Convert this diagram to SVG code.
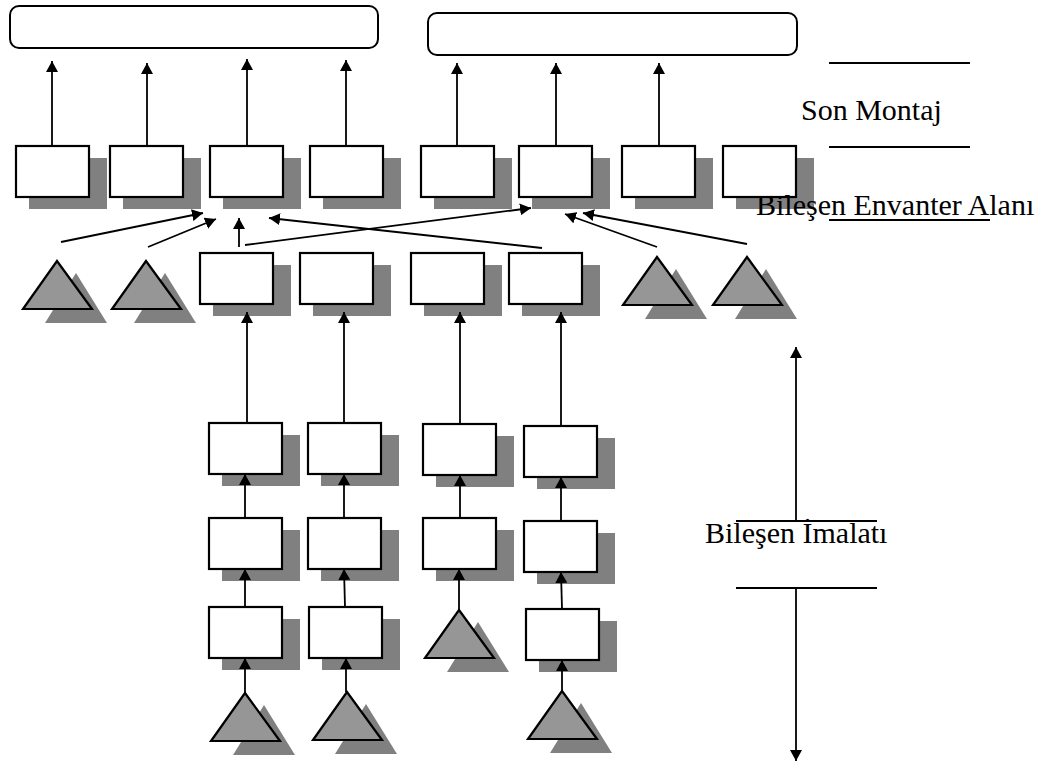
<svg xmlns="http://www.w3.org/2000/svg" width="1041" height="765" viewBox="0 0 1041 765">
  <style>
    .box { fill: #ffffff; stroke: #000000; stroke-width: 2.2; }
    .sh { fill: #808080; stroke: none; }
    .tri { fill: #969696; stroke: #000000; stroke-width: 2.2; stroke-linejoin: miter; }
    .stage { fill: #ffffff; stroke: #000000; stroke-width: 2; }
    .ln { fill: none; stroke: #000000; stroke-width: 2; }
    .arr { fill: none; stroke: #000000; stroke-width: 1.8; marker-end: url(#ah); }
    .lbl { font-family: "Liberation Serif", "Times New Roman", serif; font-size: 30px; fill: #000000; }
  </style>
  <defs>
    <marker id="ah" viewBox="0 0 11 12" refX="11" refY="6" markerWidth="11" markerHeight="12" markerUnits="userSpaceOnUse" orient="auto">
      <path d="M0,0 L11,6 L0,12 z" fill="#000000"/>
    </marker>
    <!-- box with drop shadow -->
    <g id="bx">
      <rect class="sh" x="13" y="12" width="78" height="51"/>
      <rect class="box" x="0" y="0" width="73" height="51"/>
    </g>
    <!-- triangle with drop shadow -->
    <g id="tr">
      <polygon class="sh" points="53,12 84,62 22,62"/>
      <polygon class="tri" points="34,0 69,48 0,48"/>
    </g>
  </defs>

  <!-- final assembly stages -->
  <g id="stage-left"><rect class="stage" x="10" y="6" width="368" height="42" rx="9"/></g>
  <g id="stage-right"><rect class="stage" x="428" y="13" width="369" height="42" rx="9"/></g>

  <!-- component inventory row -->
  <g id="inv-1"><use href="#bx" x="16" y="146"/></g>
  <g id="inv-2"><use href="#bx" x="110" y="146"/></g>
  <g id="inv-3"><use href="#bx" x="210" y="146"/></g>
  <g id="inv-4"><use href="#bx" x="310" y="146"/></g>
  <g id="inv-5"><use href="#bx" x="421" y="146"/></g>
  <g id="inv-6"><use href="#bx" x="519" y="146"/></g>
  <g id="inv-7"><use href="#bx" x="622" y="146"/></g>
  <g id="inv-8"><use href="#bx" x="723" y="146"/></g>

  <!-- supply row -->
  <g id="src-1"><use href="#tr" x="23" y="261"/></g>
  <g id="src-2"><use href="#tr" x="112" y="261"/></g>
  <g id="mid-1"><use href="#bx" x="200" y="253"/></g>
  <g id="mid-2"><use href="#bx" x="300" y="253"/></g>
  <g id="mid-3"><use href="#bx" x="411" y="253"/></g>
  <g id="mid-4"><use href="#bx" x="509" y="253"/></g>
  <g id="src-3"><use href="#tr" x="623" y="257"/></g>
  <g id="src-4"><use href="#tr" x="713" y="257"/></g>

  <!-- manufacturing chains -->
  <g id="c1-1"><use href="#bx" x="209" y="423"/></g>
  <g id="c1-2"><use href="#bx" x="209" y="518"/></g>
  <g id="c1-3"><use href="#bx" x="209" y="607"/></g>
  <g id="c1-src"><use href="#tr" x="211" y="693"/></g>

  <g id="c2-1"><use href="#bx" x="308" y="423"/></g>
  <g id="c2-2"><use href="#bx" x="308" y="518"/></g>
  <g id="c2-3"><use href="#bx" x="309" y="607"/></g>
  <g id="c2-src"><use href="#tr" x="313" y="692"/></g>

  <g id="c3-1"><use href="#bx" x="423" y="424"/></g>
  <g id="c3-2"><use href="#bx" x="423" y="518"/></g>
  <g id="c3-src"><use href="#tr" x="425" y="610"/></g>

  <g id="c4-1"><use href="#bx" x="524" y="426"/></g>
  <g id="c4-2"><use href="#bx" x="524" y="521"/></g>
  <g id="c4-3"><use href="#bx" x="526" y="609"/></g>
  <g id="c4-src"><use href="#tr" x="528" y="691"/></g>

  <!-- connectors -->
  <g id="connectors">
    <line class="arr" x1="52" y1="146" x2="52" y2="61"/>
    <line class="arr" x1="147" y1="146" x2="147" y2="63"/>
    <line class="arr" x1="247" y1="146" x2="247" y2="59"/>
    <line class="arr" x1="346" y1="146" x2="346" y2="60"/>
    <line class="arr" x1="457" y1="146" x2="457" y2="63"/>
    <line class="arr" x1="556" y1="146" x2="556" y2="63"/>
    <line class="arr" x1="659" y1="146" x2="659" y2="63"/>

    <line class="arr" x1="61" y1="242" x2="203" y2="213"/>
    <line class="arr" x1="148" y1="247" x2="216" y2="219"/>
    <line class="arr" x1="239" y1="247" x2="239" y2="218"/>
    <line class="arr" x1="542" y1="248" x2="269" y2="218"/>
    <line class="arr" x1="245" y1="245" x2="531" y2="208"/>
    <line class="arr" x1="657" y1="247" x2="565" y2="214"/>
    <line class="arr" x1="747" y1="244" x2="583" y2="213"/>

    <line class="arr" x1="247" y1="423" x2="247" y2="312"/>
    <line class="arr" x1="344" y1="423" x2="344" y2="312"/>
    <line class="arr" x1="460" y1="424" x2="460" y2="312"/>
    <line class="arr" x1="561" y1="426" x2="561" y2="312"/>

    <line class="arr" x1="245" y1="518" x2="245" y2="474"/>
    <line class="arr" x1="245" y1="607" x2="245" y2="569"/>
    <line class="arr" x1="245" y1="693" x2="245" y2="658"/>

    <line class="arr" x1="344" y1="518" x2="344" y2="474"/>
    <line class="arr" x1="345" y1="607" x2="344" y2="569"/>
    <line class="arr" x1="346" y1="692" x2="346" y2="658"/>

    <line class="arr" x1="460" y1="518" x2="460" y2="475"/>
    <line class="arr" x1="459" y1="610" x2="459" y2="569"/>

    <line class="arr" x1="561" y1="521" x2="561" y2="477"/>
    <line class="arr" x1="562" y1="609" x2="561" y2="572"/>
    <line class="arr" x1="562" y1="691" x2="562" y2="660"/>
  </g>

  <!-- area labels -->
  <g id="label-final">
    <line class="ln" x1="829" y1="63" x2="970" y2="63"/>
    <line class="ln" x1="829" y1="147" x2="970" y2="147"/>
    <text class="lbl" x="801" y="120">Son Montaj</text>
  </g>
  <g id="label-inventory">
    <text class="lbl" x="756" y="215">Bileşen Envanter Alanı</text>
    <line class="ln" x1="829" y1="220" x2="990" y2="220"/>
  </g>
  <g id="label-manufacturing">
    <line class="arr" x1="796" y1="521" x2="796" y2="347"/>
    <line class="ln" x1="736" y1="521" x2="877" y2="521"/>
    <text class="lbl" x="705" y="543">Bileşen İmalatı</text>
    <line class="ln" x1="736" y1="588" x2="877" y2="588"/>
    <line class="arr" x1="796" y1="588" x2="796" y2="761"/>
  </g>
</svg>
